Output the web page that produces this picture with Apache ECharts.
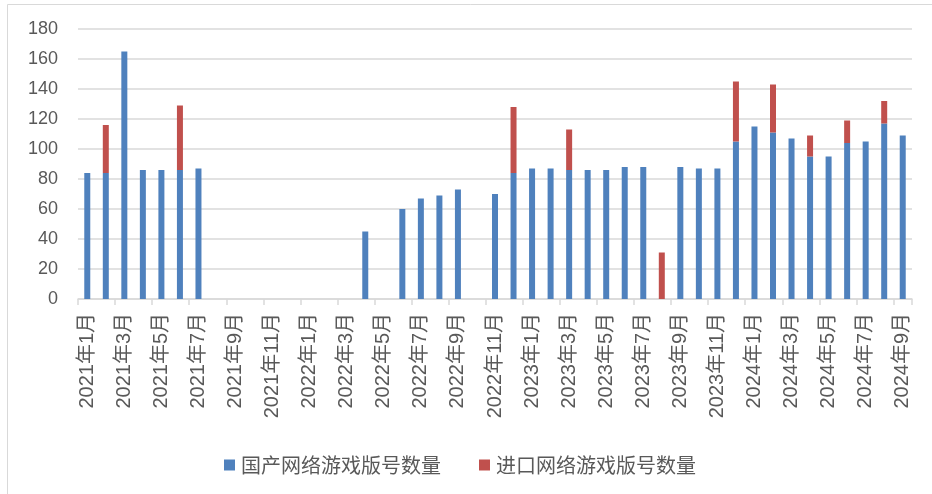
<!DOCTYPE html>
<html>
<head>
<meta charset="utf-8">
<script src="https://cdn.jsdelivr.net/npm/echarts@6/dist/echarts.min.js"></script>
<style>
html,body{margin:0;padding:0;background:#fff;}
#chart{width:932px;height:494px;}
</style>
</head>
<body>
<div id="chart"></div>
<script>
// Categories: 2021年1月 … 2024年9月
const categories = [];
for (let y = 2021; y <= 2024; y++) {
  for (let m = 1; m <= 12; m++) {
    if (y === 2024 && m > 9) break;
    categories.push(y + '年' + m + '月');
  }
}

const seriesNames = ['国产网络游戏版号数量', '进口网络游戏版号数量'];

// 国产网络游戏版号数量
const domestic = [
  84, 84, 165, 86, 86, 86, 87,            // 2021-01 … 2021-07
  null, null, null, null, null,           // 2021-08 … 2021-12
  null, null, null,                       // 2022-01 … 2022-03
  45, null, 60, 67, 69, 73, null, 70, 84, // 2022-04 … 2022-12
  87, 87, 86, 86, 86, 88, 88, 0, 88, 87, 87, 105, // 2023-01 … 2023-12
  115, 111, 107, 95, 95, 104, 105, 117, 109       // 2024-01 … 2024-09
];

// 进口网络游戏版号数量
const imported = [
  null, 32, null, null, null, 43, null,
  null, null, null, null, null,
  null, null, null,
  null, null, null, null, null, null, null, null, 44,
  null, null, 27, null, null, null, null, 31, null, null, null, 40,
  null, 32, null, 14, null, 15, null, 15, null
];

const yTicks = { min: 0, max: 180, interval: 20 };

const colors = ['#4F81BD', '#C0504D'];
const textColor = '#595959';
const fontFam = '"Liberation Sans", "Noto Sans CJK SC", sans-serif';

const chart = echarts.init(document.getElementById('chart'), null, { renderer: 'canvas' });
chart.setOption({
  animation: false,
  backgroundColor: '#ffffff',
  color: colors,
  graphic: [{
    type: 'rect',
    shape: { x: 7.5, y: 4.5, width: 940, height: 500 },
    style: { fill: 'none', stroke: '#d9d9d9', lineWidth: 1 },
    silent: true
  }],
  grid: { left: 78, right: 20, top: 29, bottom: 195 },
  legend: {
    left: 219,
    top: 450,
    itemWidth: 11,
    itemHeight: 11,
    itemGap: 38,
    icon: 'rect',
    textStyle: { color: textColor, fontSize: 20, fontFamily: '"Noto Sans CJK SC", sans-serif', padding: [0, 0, 0, 1] },
    data: seriesNames
  },
  xAxis: {
    type: 'category',
    data: categories,
    boundaryGap: true,
    axisLine: { show: true, lineStyle: { color: '#d9d9d9', width: 1.5 } },
    axisTick: { show: true, interval: 1, length: 6, lineStyle: { color: '#d9d9d9', width: 1.5 } },
    axisLabel: {
      interval: 1,
      rotate: 90,
      margin: 14,
      color: textColor,
      fontSize: 20,
      fontFamily: fontFam
    },
    splitLine: { show: false }
  },
  yAxis: {
    type: 'value',
    min: yTicks.min,
    max: yTicks.max,
    interval: yTicks.interval,
    axisLine: { show: false },
    axisTick: { show: false },
    axisLabel: { color: textColor, fontSize: 18, margin: 20, fontFamily: fontFam },
    splitLine: { lineStyle: { color: '#d9d9d9', width: 1.5 } }
  },
  series: [
    {
      name: seriesNames[0],
      type: 'bar',
      stack: 'total',
      barWidth: 6,
      data: domestic,
      itemStyle: { color: colors[0] }
    },
    {
      name: seriesNames[1],
      type: 'bar',
      stack: 'total',
      barWidth: 6,
      data: imported,
      itemStyle: { color: colors[1] }
    }
  ]
});
</script>
</body>
</html>
